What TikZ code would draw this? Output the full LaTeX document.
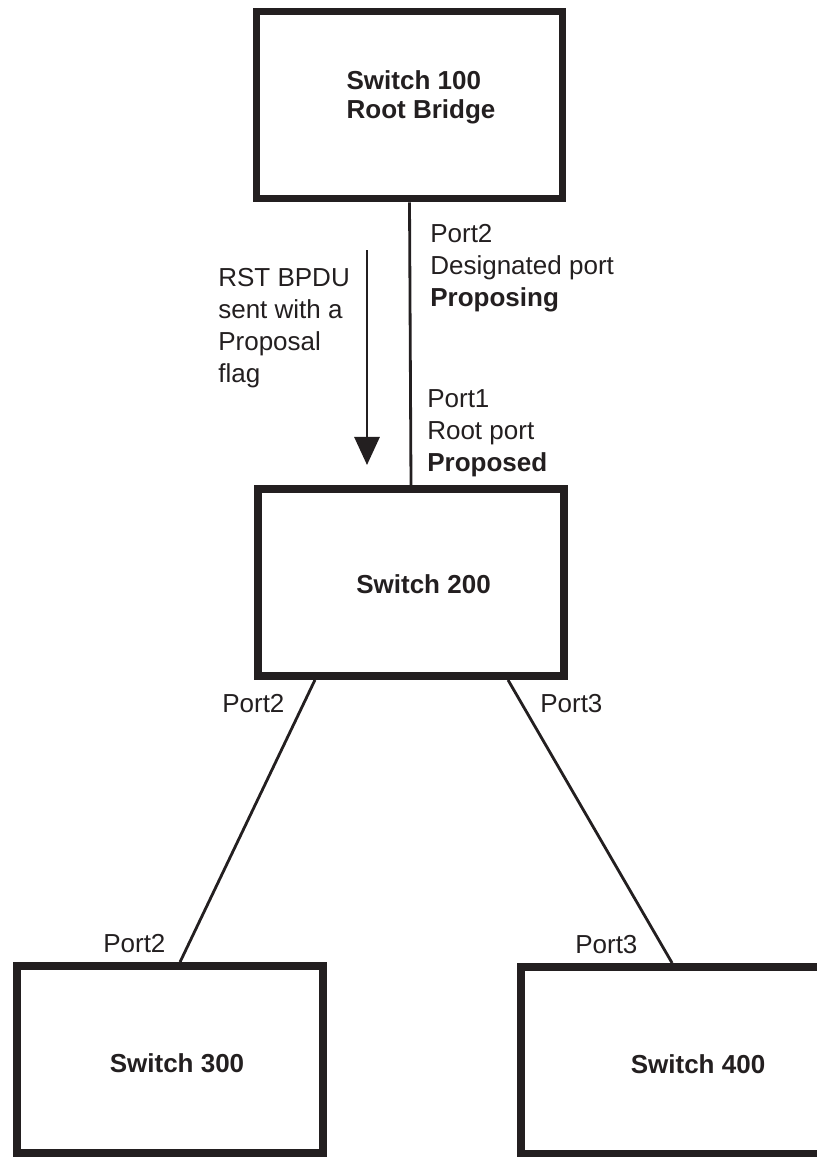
\documentclass[tikz,border=0pt]{standalone}
\usepackage{fontspec}
\setmainfont{Liberation Sans}
\usetikzlibrary{arrows.meta,calc}
\definecolor{LineClr}{rgb}{0.137,0.122,0.125}
\newcommand\lblsize{\fontsize{18.5}{22.8}\selectfont}

\begin{document}
\begin{tikzpicture}[x=0.025cm,y=-0.025cm,
  switch/.style={draw=LineClr,line width=5.6pt,minimum width=7.65cm,minimum height=4.675cm,inner sep=0pt},
  swtext/.style={inner sep=0pt,align=left,text=LineClr,font=\fontsize{18.5}{21}\selectfont\bfseries},
  link/.style={draw=LineClr,line width=2pt},
  portlbl/.style={inner sep=0pt,align=left,text=LineClr,font=\lblsize}]
\useasboundingbox (0,0) rectangle (816,1157);

\node[switch] (Sw100) at (409.5,105) {};
\node[switch] (Sw200) at (411,582.5) {};
\node[switch] (Sw300) at (170,1059.5) {};
\node[switch] (Sw400) at (674,1060.5) {};

\node[swtext] (Sw100txt) at ($(Sw100)+(11.5,-7.5)$) {Switch 100\\Root Bridge};
\node[swtext] (Sw200txt) at ($(Sw200)+(12.5,2)$) {Switch 200};
\node[swtext] (Sw300txt) at ($(Sw300)+(7,3.5)$) {Switch 300};
\node[swtext] (Sw400txt) at ($(Sw400)+(24,3.5)$) {Switch 400};

\draw[link] (Sw100.south) -- (Sw200.north);
\draw[link] ($(Sw200.south west)!.194!(Sw200.south east)$) -- ($(Sw300.north west)!.532!(Sw300.north east)$);
\draw[link] ($(Sw200.south west)!.809!(Sw200.south east)$) -- ($(Sw400.north west)!.494!(Sw400.north east)$);

\coordinate (bpduA) at (367,250);
\coordinate (bpduB) at (367,465);
\draw[link,-{Triangle[width=0.625cm,length=0.7cm]}] (bpduA) -- (bpduB);

\node[portlbl,anchor=north west] (bpduTxt) at (218,268) {RST BPDU\\sent with a\\Proposal\\flag};
\node[portlbl,anchor=north west] (p2Desig) at (430,224) {Port2\\Designated port\\\textbf{Proposing}};
\node[portlbl,anchor=north west] (p1Root) at (427,389) {Port1\\Root port\\\textbf{Proposed}};

\node[portlbl,anchor=base west] (p2Sw200) at (222,712) {Port2};
\node[portlbl,anchor=base west] (p3Sw200) at (540,712) {Port3};
\node[portlbl,anchor=base west] (p2Sw300) at (103,952) {Port2};
\node[portlbl,anchor=base west] (p3Sw400) at (575,953) {Port3};

\end{tikzpicture}
\end{document}
